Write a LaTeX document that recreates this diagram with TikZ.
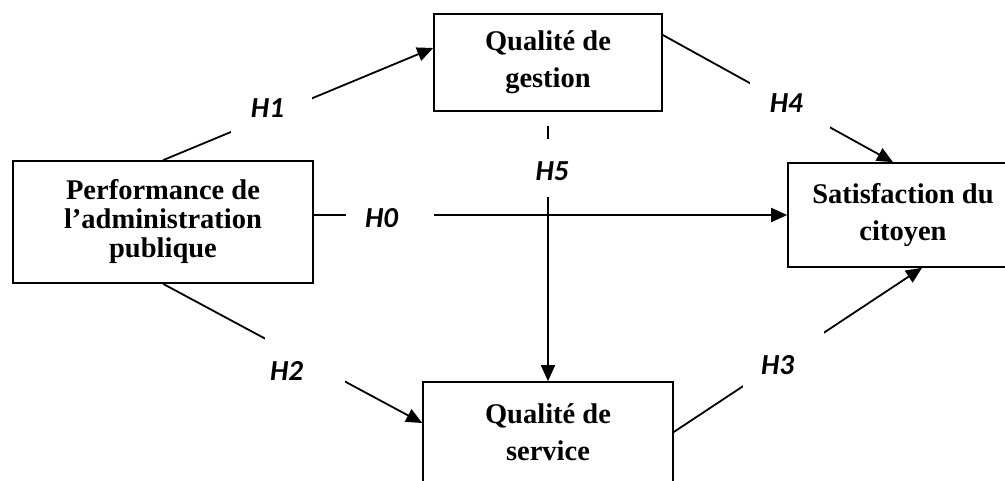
\documentclass[tikz,border=0pt]{standalone}
\usepackage{fontspec}
\setmainfont{Liberation Serif}
\newfontfamily\lblfont{Carlito}
\usetikzlibrary{arrows.meta}
\begin{document}
\begin{tikzpicture}[x=1pt,y=-1pt,
 box/.style={draw, line width=1.6pt, rectangle, inner sep=0pt, align=center, font=\fontsize{28.5}{37}\selectfont\bfseries},
 conn/.style={line width=1.8pt},
 arr/.style={conn,-{Triangle[length=16pt,width=14pt]}},
 gap/.style={fill=white, inner sep=0pt, rectangle},
 lbl/.style={inner sep=0pt, font=\lblfont\fontsize{29}{30}\selectfont\bfseries\itshape}]
\useasboundingbox (0,0) rectangle (1005,481);
\fill[white] (0,0) rectangle (1005,481);
\clip (0,0) rectangle (1005,481);
\node[box, minimum width=300pt, minimum height=122pt, font=\fontsize{28.5}{29}\selectfont\bfseries] (perf) at (163,222) {Performance de\\l’administration\\publique};
\node[box, minimum width=228pt, minimum height=97pt] (gestion) at (548,62.5) {Qualité de\\gestion};
\node[box, minimum width=230pt, minimum height=104pt] (sat) at (903,215) {Satisfaction du\\citoyen};
\node[box, minimum width=250pt, minimum height=100pt] (service) at (548,432) {Qualité de\\service};

\draw[arr] (perf.north) -- node[gap,pos=0.403,minimum width=81pt,minimum height=40pt] (g1) {} ([yshift=14.5pt]gestion.west);
\draw[arr] ([yshift=27.5pt]gestion.east) -- node[gap,pos=0.554,minimum width=80pt,minimum height=50pt] (g4) {} ([xshift=-10pt]sat.north);
\draw[arr] ([yshift=7pt]perf.east) -- node[gap,pos=0.16,minimum width=88pt,minimum height=36pt] (g0) {} (sat.west);
\draw[arr] (perf.south) -- node[gap,pos=0.546,minimum width=80pt,minimum height=50pt] (g2) {} ([yshift=9pt]service.west);
\draw[arr] (service.east) -- node[gap,pos=0.44,minimum width=81pt,minimum height=60pt] (g3) {} ([xshift=19pt]sat.south);
\draw[arr] ([yshift=-14pt]gestion.south) -- node[gap,pos=0.167,minimum width=40pt,minimum height=58pt] (g5) {} (service.north);

\node[lbl] (h1) at ([xshift=-4.4pt,yshift=6.5pt]g1.center) {H1};
\node[lbl] (h0) at ([xshift=-8pt,yshift=-3pt]g0.center) {H0};
\node[lbl] (h4) at ([xshift=-4pt,yshift=2pt]g4.center) {H4};
\node[lbl] (h2) at ([xshift=-18pt,yshift=-11.6pt]g2.center) {H2};
\node[lbl] (h3) at ([xshift=-5.5pt,yshift=-5.6pt]g3.center) {H3};
\node[lbl] (h5) at ([xshift=4pt,yshift=-3pt]g5.center) {H5};
\end{tikzpicture}
\end{document}
